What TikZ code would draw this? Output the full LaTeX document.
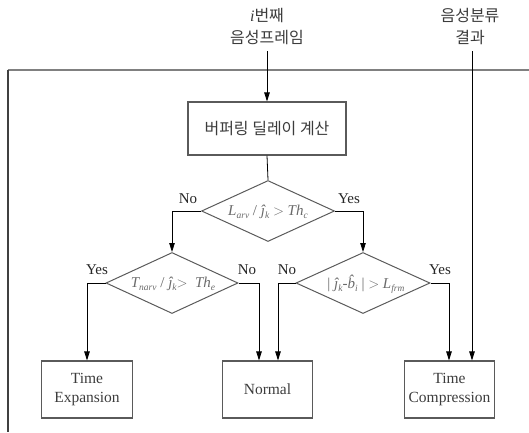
\documentclass[tikz,border=0pt]{standalone}
\usepackage{fontspec}
\setmainfont{Liberation Serif}
\newfontfamily\kr{Noto Sans CJK KR}
\usetikzlibrary{shapes.geometric,arrows.meta}

\definecolor{boxgray}{HTML}{5A5A5A}
\definecolor{textgray}{HTML}{3C3C3C}
\definecolor{mathgray}{HTML}{6A6A6A}
\definecolor{topgray}{HTML}{808080}
\definecolor{sidegray}{HTML}{404040}

% small italic subscript
\newcommand{\lsub}[1]{\raisebox{-0.45ex}{\fontsize{9.5}{9.5}\selectfont\itshape #1}}

\tikzset{
  procbox/.style={draw=boxgray, line width=1.1pt, inner sep=0pt, align=center,
    text=textgray, font=\fontsize{15.5}{19}\selectfont},
  decision/.style={draw=boxgray, line width=1pt, diamond, inner sep=0pt,
    minimum width=133pt, minimum height=61pt},
  condtext/.style={text=mathgray, font=\fontsize{15}{15}\selectfont\itshape, inner sep=0pt},
  branch/.style={text=black!85, font=\fontsize{15}{15}\selectfont, inner sep=0pt},
  inlabel/.style={align=center, text=textgray, font=\fontsize{16}{22}\selectfont, inner sep=0pt},
  arr/.style={-{Triangle[length=9pt,width=5.5pt]}, line width=0.8pt},
  link/.style={line width=0.8pt}
}

\begin{document}
\begin{tikzpicture}[x=1pt,y=-1pt]
\useasboundingbox (0,0) rectangle (529,432);

% enclosing frame (top and left edges)
\draw[topgray, line width=1.6pt] (7.5,70) -- (529,70);
\draw[sidegray, line width=1.3pt] (8,70) -- (8,432);

% inputs
\node[inlabel] (frm) at (267,27) {{\itshape i}{\kr 번째}\\{\kr 음성프레임}};
\node[inlabel] (cls) at (470,27) {{\kr 음성분류}\\{\kr 결과}};

% process box
\node[procbox, minimum width=158pt, minimum height=53pt,
      font=\kr\fontsize{16}{16}\selectfont] (buf) at (267,128.5) {버퍼링 딜레이 계산};

% decisions
\node[decision] (d1) at (268,211) {};
\node[decision, minimum width=132pt] (d2) at (172,283) {};
\node[decision, minimum width=134pt] (d3) at (363,283) {};

\node[condtext] (c1) at (268,212) {L\lsub{arv} {\upshape /} \^j\lsub{k} {\upshape $>$} Th\lsub{c}};
\node[condtext] (c2) at (173,284) {T\lsub{narv} {\upshape /} \^j\lsub{k}{\upshape $>$}\ \ Th\lsub{e}};
\node[condtext] (c3) at (366,284) {{\upshape |} \^j\lsub{k}{\upshape -}\^b\lsub{i} {\upshape |} {\upshape $>$} L\lsub{frm}};

% outcomes
\node[procbox, minimum width=90.5pt, minimum height=57pt] (te) at (87,389.5) {Time\\Expansion};
\node[procbox, minimum width=90.5pt, minimum height=57pt] (nm) at (267.5,389.5) {Normal};
\node[procbox, minimum width=90.5pt, minimum height=57pt] (tc) at (449.5,389.5) {Time\\Compression};

% branch labels
\node[branch] (n1) at (188,199) {No};
\node[branch] (y1) at (349,199) {Yes};
\node[branch] (y2) at (97,270) {Yes};
\node[branch] (n2) at (247,270) {No};
\node[branch] (n3) at (287,270) {No};
\node[branch] (y3) at (440,270) {Yes};

% connectors
\coordinate (nmA) at ([xshift=-8.5pt]nm.north);
\coordinate (nmB) at ([xshift=10.5pt]nm.north);
\coordinate (tcA) at ([xshift=-0.5pt]tc.north);
\coordinate (tcB) at ([xshift=22.5pt]tc.north);

\draw[arr] ([yshift=-6pt]frm.south) -- (buf.north);
\draw[link] (buf.south) -- (d1.north);
\draw[arr] (d1.west) -| (d2.north);
\draw[arr] (d1.east) -| (d3.north);
\draw[arr] (d2.west) -| (te.north);
\draw[arr] (d2.east) -| (nmA);
\draw[arr] (d3.west) -| (nmB);
\draw[arr] (d3.east) -| (tcA);
\draw[arr] ([yshift=-6pt]cls.south -| tcB) -- (tcB);
\end{tikzpicture}
\end{document}
